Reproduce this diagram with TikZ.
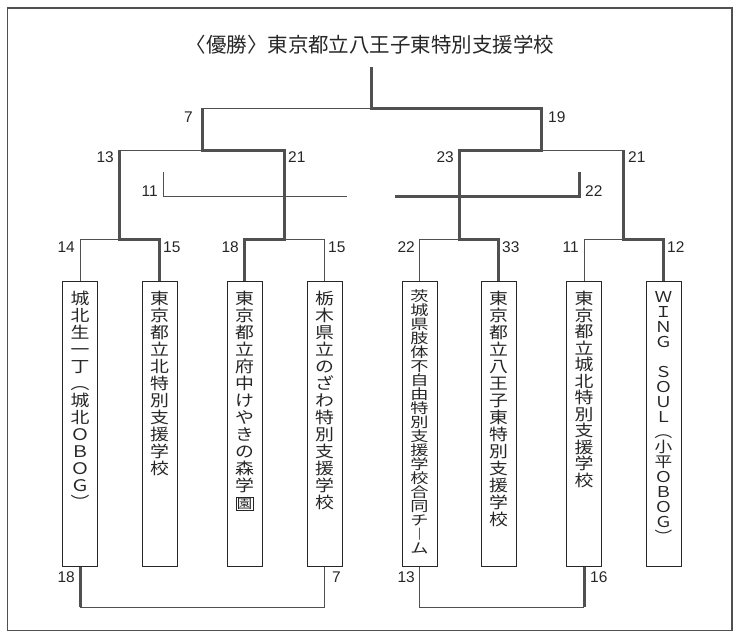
\documentclass[tikz,border=0pt]{standalone}
\usepackage{fontspec}
\setmainfont{Noto Sans CJK JP}
\newfontfamily\widefont[FakeStretch=1.18]{Noto Sans CJK JP}
\newfontfamily\widerfont[FakeStretch=1.3]{Noto Sans CJK JP}
\newfontfamily\scorefont{Liberation Sans}
\usetikzlibrary{positioning}
\definecolor{bracketgray}{HTML}{505050}
\definecolor{inkgray}{HTML}{262626}
\tikzset{
  team/.style={draw=inkgray, line width=0.8pt, minimum width=35pt, minimum height=285pt, anchor=north, inner sep=0pt},
  teamname/.style={anchor=north, inner sep=0pt, text width=26pt, align=center, text=inkgray, font=\widefont\fontsize{16}{17}\selectfont},
  score/.style={inner sep=0pt, text=inkgray, font=\scorefont\fontsize{15.5}{15.5}\selectfont},
  lose/.style={draw=bracketgray, line width=1pt},
  win/.style={draw=bracketgray, line width=3pt},
}
\setlength\fboxsep{0.6pt}
\setlength\fboxrule{0.6pt}

\begin{document}
\begin{tikzpicture}[x=1pt,y=-1pt]
\useasboundingbox (0,0) rectangle (740,640);
\draw[bracketgray, line width=1.2pt] (7.5,8) rectangle (732,630.5);
\node[text=inkgray, font=\fontsize{20.5}{20.5}\selectfont] (title) at (370,45) {〈優勝〉東京都立八王子東特別支援学校};

% teams
\node[team] (b1) at (80,281) {};
\node[team] (b2) at (159.5,281) {};
\node[team] (b3) at (244.5,281) {};
\node[team] (b4) at (324.5,281) {};
\node[team] (b5) at (419.5,281) {};
\node[team] (b6) at (498.5,281) {};
\node[team] (b7) at (584,281) {};
\node[team] (b8) at (663.5,281) {};
\node[teamname, below=10pt of b1.north] (n1) {城\\北\\生\\一\\丁\\︵\\城\\北\\Ｏ\\Ｂ\\Ｏ\\Ｇ\\︶};
\node[teamname, below=10pt of b2.north] (n2) {東\\京\\都\\立\\北\\特\\別\\支\\援\\学\\校};
\node[teamname, below=10pt of b3.north] (n3) {東\\京\\都\\立\\府\\中\\け\\や\\き\\の\\森\\学\\\fbox{\fontsize{13}{13}\selectfont 園}};
\node[teamname, below=10pt of b4.north] (n4) {栃\\木\\県\\立\\の\\ざ\\わ\\特\\別\\支\\援\\学\\校};
\node[teamname, below=9pt of b5.north, font=\widerfont\fontsize{14}{14}\selectfont] (n5) {茨\\城\\県\\肢\\体\\不\\自\\由\\特\\別\\支\\援\\学\\校\\合\\同\\チ\\︱\\ム};
\node[teamname, below=10pt of b6.north] (n6) {東\\京\\都\\立\\八\\王\\子\\東\\特\\別\\支\\援\\学\\校};
\node[teamname, below=10pt of b7.north, font=\widefont\fontsize{16}{16.5}\selectfont] (n7) {東\\京\\都\\立\\城\\北\\特\\別\\支\\援\\学\\校};
\node[teamname, below=10pt of b8.north, font=\widefont\fontsize{15}{15}\selectfont] (n8) {Ｗ\\Ｉ\\Ｎ\\Ｇ\\\mbox{}\\Ｓ\\Ｏ\\Ｕ\\Ｌ\\︵\\小\\平\\Ｏ\\Ｂ\\Ｏ\\Ｇ\\︶};

% joints
\coordinate (m1) at (119.75,239);
\coordinate (m2) at (284.5,239);
\coordinate (m3) at (459,239);
\coordinate (m4) at (623.75,239);
\coordinate (q1) at (202,150);
\coordinate (q2) at (541,150);
\coordinate (f) at (371.5,108);
\coordinate (top) at (371.5,67);
\coordinate (p11) at (163,172);
\coordinate (p11e) at (347,196);
\coordinate (p22) at (579,172);
\coordinate (p22e) at (395,196);
\coordinate (c1) at (80,607);
\coordinate (c2) at (584,607);

% losing lines
\draw[lose] (b1.north) |- (m1);
\draw[lose] (b4.north) |- (m2);
\draw[lose] (b5.north) |- (m3);
\draw[lose] (b7.north) |- (m4);
\draw[lose] (m1 |- q1) -- (q1);
\draw[lose] (m4 |- q2) -- (q2);
\draw[lose] (q1 |- f) -- (f);
\draw[lose] (p11) |- (p11e);
\draw[lose] (c1) -| (b4.south);
\draw[lose] (b5.south) |- (c2);

% winning lines
\draw[win] (b2.north) |- (m1) -- (m1 |- q1);
\draw[win] (b3.north) |- (m2) -- (m2 |- q1) -- (q1) -- (q1 |- f);
\draw[win] (b8.north) |- (m4) -- (m4 |- q2);
\draw[win] (b6.north) |- (m3) -- (m3 |- q2) -- (q2) -- (q2 |- f) -- (f) -- (top);
\draw[win] (p22e) -| (p22);
\draw[win] (b1.south) -- (c1);
\draw[win] (b7.south) -- (c2);

% scores
\node[score, anchor=base east] (s7) at (193,122) {7};
\node[score, anchor=base west] (s19) at (548,122) {19};
\node[score, anchor=base east] (s13) at (114,162) {13};
\node[score, anchor=base west] (s21a) at (288,162) {21};
\node[score, anchor=base east] (s23) at (454,162) {23};
\node[score, anchor=base west] (s21b) at (628,162) {21};
\node[score, anchor=base east] (s11a) at (158,196) {11};
\node[score, anchor=base west] (s22a) at (585,196) {22};
\node[score, anchor=base east] (s14) at (75,252) {14};
\node[score, anchor=base west] (s15a) at (163,252) {15};
\node[score, anchor=base east] (s18a) at (239,252) {18};
\node[score, anchor=base west] (s15b) at (328,252) {15};
\node[score, anchor=base east] (s22b) at (415,252) {22};
\node[score, anchor=base west] (s33) at (502,252) {33};
\node[score, anchor=base east] (s11b) at (579,252) {11};
\node[score, anchor=base west] (s12) at (667,252) {12};
\node[score, anchor=base east] (s18b) at (75,582) {18};
\node[score, anchor=base west] (s7b) at (332,582) {7};
\node[score, anchor=base east] (s13b) at (415,582) {13};
\node[score, anchor=base west] (s16) at (590,582) {16};
\end{tikzpicture}
\end{document}
